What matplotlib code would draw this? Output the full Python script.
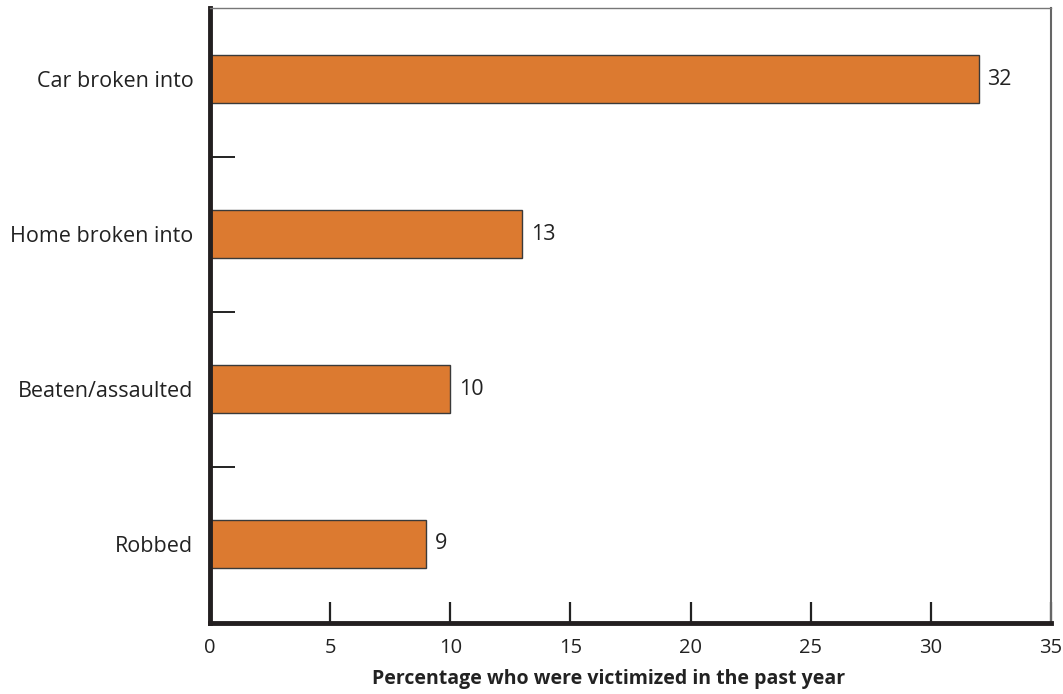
import matplotlib
matplotlib.use("Agg")
import matplotlib.pyplot as plt
from matplotlib.ticker import FixedLocator

categories = ["Robbed", "Beaten/assaulted", "Home broken into", "Car broken into"]
values = [9, 10, 13, 32]
x_ticks = [0, 5, 10, 15, 20, 25, 30, 35]

plt.rcParams['font.family'] = ['Open Sans', 'DejaVu Sans']

fig = plt.figure(figsize=(10.63, 6.94), dpi=100)
ax = fig.add_axes([210 / 1063, 71 / 694, 841 / 1063, 615 / 694])

ypos = list(range(len(categories)))
ax.barh(ypos, values, height=0.31, color="#DC7A30",
        edgecolor="#3a3a3a", linewidth=1.0)

for y, v in zip(ypos, values):
    ax.text(v + 0.35, y, f"{v}", va="center", ha="left", fontsize=15.5, color="#222222")

ax.set_xlim(0, 35)
ax.set_ylim(-0.51, 3.46)
ax.set_xticks(x_ticks)
ax.set_xticklabels([str(t) for t in x_ticks], fontsize=14.5, color="#222222")
ax.set_yticks(ypos)
ax.set_yticklabels(categories, fontsize=15.5, color="#222222")
ax.yaxis.set_minor_locator(FixedLocator([0.5, 1.5, 2.5]))

ax.tick_params(axis="x", direction="in", length=15, width=1.6, color="#222222", pad=11)
ax.tick_params(axis="y", which="major", length=0, pad=12)
ax.tick_params(axis="y", which="minor", direction="in", length=18, width=1.4, color="#222222")

ax.spines["left"].set_linewidth(3.5)
ax.spines["left"].set_color("#231f20")
ax.spines["bottom"].set_linewidth(3.5)
ax.spines["bottom"].set_color("#231f20")
ax.spines["top"].set_linewidth(1.0)
ax.spines["top"].set_color("#777777")
ax.spines["right"].set_linewidth(1.5)
ax.spines["right"].set_color("#666666")

ax.set_xlabel("Percentage who were victimized in the past year", fontsize=14,
              fontweight="bold", color="#222222")
ax.xaxis.set_label_coords(0.4744, -0.074)

fig.savefig("out.png", dpi=100, facecolor="white")
